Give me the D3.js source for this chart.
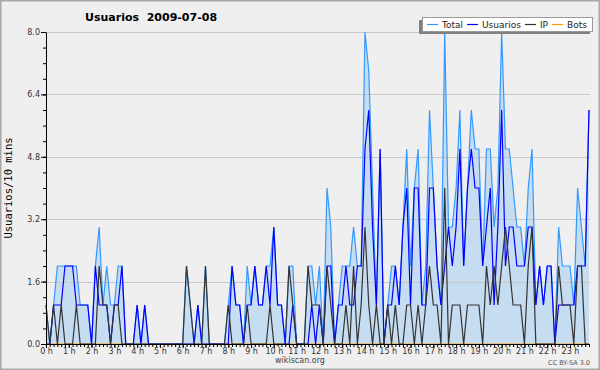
<!DOCTYPE html>
<html lang="es">
<head>
<meta charset="UTF-8">
<title>Usuarios 2009-07-08</title>
<script src="https://d3js.org/d3.v7.min.js"></script>
<style>
  body { margin: 0; background: #efefef; }
  svg { display: block; font-family: "DejaVu Sans", sans-serif; }
</style>
</head>
<body>
<div id="chart"></div>
<script>
// one value every 10 minutes, 0:00 -> 23:50
const total = [
  1,0,1,2,2,2,2,2,2,1,1,1,0,2,3,1,2,1,1,2,2,0,0,0,1,0,1,
  0,0,0,0,0,0,0,0,0,0,2,1,0,1,0,2,0,0,0,0,0,1,2,1,1,0,
  2,1,2,1,1,2,2,3,1,1,0,2,2,0,0,0,2,2,1,2,0,4,3,0,1,2,2,2,
  3,2,2,8,7,4,1,5,0,1,2,2,1,3,5,2,4,5,1,2,6,
  4,2,1,8,3,3,4,6,2,4,6,5,5,2,5,5,3,4,8,5,5,4,3,3,2,4,5,1,2,1,2,2,0,3,2,2,2,1,4,3,2,6
];
const usuarios = [
  0,0,1,1,1,2,2,2,1,1,1,1,0,2,1,1,1,0,1,1,2,0,0,0,1,0,1,
  0,0,0,0,0,0,0,0,0,0,0,0,0,1,0,0,0,0,0,0,0,0,2,1,1,0,
  1,1,2,1,1,2,1,3,1,1,0,0,1,0,0,0,0,1,0,1,0,2,2,0,1,1,2,1,
  1,2,2,5,6,3,1,5,0,1,1,2,1,3,4,1,4,4,1,1,4,
  4,2,1,2,3,2,3,5,2,4,5,4,4,2,3,4,1,3,6,2,3,3,2,2,2,3,3,1,2,1,2,2,0,1,1,1,1,1,2,2,2,6
];
const ip = [
  1,0,1,0,1,0,0,0,1,0,0,0,0,0,2,1,1,0,1,1,0,0,0,0,0,0,0,
  0,0,0,0,0,0,0,0,0,0,2,1,0,0,0,2,0,0,0,0,0,1,0,0,0,0,
  1,0,0,0,0,0,1,0,0,0,0,2,1,0,0,0,2,1,1,1,0,2,1,0,0,0,1,0,
  2,0,1,3,1,0,1,0,0,1,0,1,0,0,1,1,0,1,0,1,2,
  1,1,0,4,0,1,1,1,0,1,1,1,1,0,2,1,2,1,2,3,2,1,1,1,0,2,3,0,0,0,0,0,0,2,1,1,1,0,2,2,0,0
];
const bots = [
  0,0,0,0,0,0,0,0,0,0,0,0,0,0,0,0,0,0,0,0,0,0,0,0,0,0,0,
  0,0,0,0,0,0,0,0,0,0,0,0,0,0,0,0,0,0,0,0,0,0,0,0,0,0,
  0,0,0,0,0,0,0,0,0,0,0,0,0,0,0,0,0,0,0,0,0,0,0,0,0,0,0,0,
  0,0,0,0,0,0,0,0,0,0,0,0,0,0,0,0,0,0,0,0,0,
  0,0,0,0,0,0,0,0,0,0,0,0,0,0,0,0,0,0,0,0,0,0,0,0,0,0,0,0,0,0,0,0,0,0,0,0,0,0,0,0,0,0
];
const hourLabels = ["0 h","1 h","2 h","3 h","4 h","5 h","6 h","7 h","8 h","9 h","10 h","11 h",
  "12 h","13 h","14 h","15 h","16 h","17 h","18 h","19 h","20 h","21 h","22 h","23 h"];
const yTicks = [0, 1.6, 3.2, 4.8, 6.4, 8.0];
const legendNames = ["Total", "Usuarios", "IP", "Bots"];
const legendColors = ["#3399ff", "#0000ff", "#333333", "#ff9900"];

const W = 600, H = 370;
const svg = d3.select("#chart").append("svg")
    .attr("width", W)
    .attr("height", H);

svg.append("rect")
    .attr("x", 0.75).attr("y", 0.75)
    .attr("width", W - 1.5).attr("height", H - 1.5)
    .attr("fill", "#efefef")
    .attr("stroke", "#a8a8a8")
    .attr("stroke-width", 1.5);

const x = d3.scaleLinear().domain([0, total.length - 1]).range([46, 589]);
const y = d3.scaleLinear().domain([0, 8]).range([344, 32]);

// area under total
svg.append("path")
    .datum(total)
    .attr("fill", "#c6dcf1")
    .attr("d", d3.area().x((d, i) => x(i)).y0(y(0)).y1(d => y(d)));

// grid
svg.append("g")
    .selectAll("line")
    .data(yTicks.slice(1))
    .join("line")
    .attr("x1", 46).attr("x2", 590)
    .attr("y1", d => Math.round(y(d)) + 0.5)
    .attr("y2", d => Math.round(y(d)) + 0.5)
    .attr("stroke", "#c8c8c8");

const line = d3.line().x((d, i) => x(i)).y(d => y(d));
[[bots, 3], [total, 0], [usuarios, 1], [ip, 2]].forEach(([s, c]) => {
    svg.append("path")
        .datum(s)
        .attr("fill", "none")
        .attr("stroke", legendColors[c])
        .attr("stroke-width", 1.2)
        .attr("d", line);
});

// y axis
const yMinor = svg.append("g")
    .attr("transform", "translate(46,0)")
    .call(d3.axisLeft(y).tickValues(d3.range(0, 8.01, 0.4)).tickSize(3).tickFormat(""));
yMinor.select(".domain").remove();

const yAxis = svg.append("g")
    .attr("transform", "translate(46,0)")
    .call(d3.axisLeft(y).tickValues(yTicks).tickFormat(d3.format(".1f"))
        .tickSize(5).tickSizeOuter(0).tickPadding(1));
yAxis.attr("font-family", "DejaVu Sans").attr("font-size", 8);
yAxis.selectAll("text").attr("fill", "#333");

// x axis
const xMinor = svg.append("g")
    .attr("transform", "translate(0,344)")
    .call(d3.axisBottom(x).tickValues(d3.range(0, total.length)).tickSize(3).tickFormat(""));
xMinor.select(".domain").remove();

const xAxis = svg.append("g")
    .attr("transform", "translate(0,344)")
    .call(d3.axisBottom(x).tickValues(hourLabels.map((h, i) => i * 6))
        .tickFormat((d, i) => hourLabels[i]).tickSize(4).tickSizeOuter(0).tickPadding(0));
xAxis.attr("font-family", "DejaVu Sans").attr("font-size", 8);
xAxis.selectAll("text").attr("fill", "#333");
xAxis.select(".domain").attr("d", "M46,0.5H590");

// titles
svg.append("text")
    .attr("x", 85).attr("y", 21)
    .attr("font-size", 11).attr("font-weight", "bold")
    .style("white-space", "pre")
    .text("Usuarios  2009-07-08");

svg.append("text")
    .attr("transform", "translate(12,188) rotate(-90)")
    .attr("text-anchor", "middle")
    .attr("font-family", "DejaVu Sans Mono")
    .attr("font-size", 10.5)
    .text("Usuarios/10 mins");

svg.append("text")
    .attr("x", 300).attr("y", 363)
    .attr("text-anchor", "middle")
    .attr("font-size", 8).attr("fill", "#444")
    .text("wikiscan.org");

svg.append("text")
    .attr("x", 590).attr("y", 365)
    .attr("text-anchor", "end")
    .attr("font-size", 6.5).attr("fill", "#555")
    .text("CC BY-SA 3.0");

// legend
const lg = svg.append("g");
lg.append("rect")
    .attr("x", 419).attr("y", 20).attr("width", 171).attr("height", 14)
    .attr("fill", "#808080");
lg.append("rect")
    .attr("x", 422.5).attr("y", 17.5).attr("width", 170).attr("height", 14)
    .attr("fill", "#fff").attr("stroke", "#999");

let lx = 427;
legendNames.forEach((name, i) => {
    lg.append("line")
        .attr("x1", lx).attr("x2", lx + 11)
        .attr("y1", 24.5).attr("y2", 24.5)
        .attr("stroke", legendColors[i]).attr("stroke-width", 1.2);
    const t = lg.append("text")
        .attr("x", lx + 15).attr("y", 28)
        .attr("font-size", 9).attr("fill", "#222")
        .text(name);
    lx += 15 + t.node().getComputedTextLength() + 4;
});
</script>
</body>
</html>
